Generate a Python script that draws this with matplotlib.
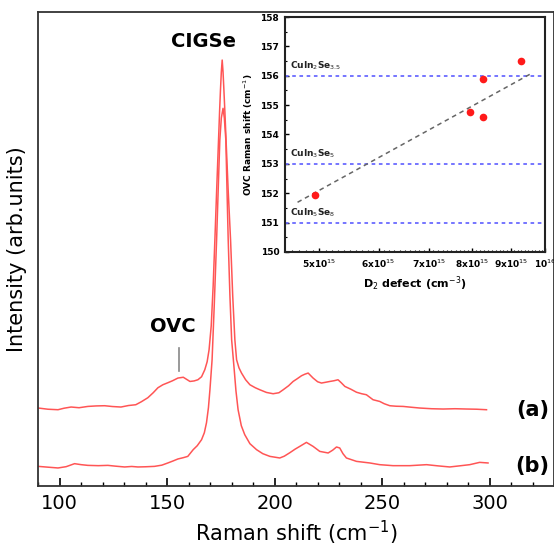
import matplotlib
matplotlib.use('Agg')
import matplotlib.pyplot as plt
from matplotlib.ticker import MultipleLocator, FixedLocator, NullLocator, NullFormatter

# spectrum (a), upper trace
xa = [90, 94.5, 99.2, 102.0, 105.3, 109.0, 113.1, 117.0, 120.9, 124.5, 128.5, 132.0,
      135.4, 138.0, 141.0, 143.5, 145.7, 148.0, 150.3, 152.5, 155.0, 157.5,
      160.6, 162.5, 164.3, 166.0, 167.5, 168.6, 169.5, 170.5, 171.4, 172.2, 173.1,
      173.9, 174.4, 174.8, 175.2, 175.6, 176.0, 176.4, 176.9, 177.4, 178.4, 179.5,
      180.5, 181.5, 182.3, 183.4, 184.6, 186.5, 188.5, 191.0, 193.1, 196.2, 199.3,
      202.0, 204.0, 206.5, 208.6, 210.5, 212.5, 214.0, 215.6, 217.9, 220.0, 221.8,
      223.8, 225.7, 227.6, 229.5, 231.0, 232.7, 235.5, 238.1, 240.5, 242.7, 245.8,
      248.9, 251.0, 253.6, 256.5, 259.8, 263.5, 267.5, 273.0, 278.4, 284.0, 289.3,
      294.0, 298.6]
ya = [77.7, 76.5, 76, 77.5, 78.7, 78.0, 79.3, 79.8, 80, 79.2, 78.7, 80.2,
      81, 84, 88, 93, 98, 101, 103, 105, 107.7, 108.5,
      104.3, 104.8, 106, 109, 116, 124, 136, 160, 200, 246, 300,
      346, 375, 396, 414, 426, 414, 396, 372, 346, 295, 246,
      190, 146, 126, 118, 112.7, 106, 101, 98, 96, 93.3, 92,
      93, 96, 100, 104.3, 107, 110, 111.5, 112.7, 107.7, 104, 102.7,
      103.5, 104.3, 105, 106, 103, 99.3, 96.5, 93.5, 92, 91, 86,
      84.3, 82, 80, 79.5, 79.3, 78.5, 77.7, 77, 76.7, 77, 76.7,
      76.5, 76]

# spectrum (b), lower trace
xb = [90, 94.5, 99.2, 103.0, 106.9, 110.0, 113.1, 118.0, 122.4, 126.0, 130.2, 133.5,
      136.4, 140.0, 144.1, 147.5, 150.3, 152.5, 155.0, 157.5, 159.6, 162.1, 164.0,
      166.0, 167.3, 168.3, 169.2, 169.9, 170.9, 171.9, 173.0, 173.8, 174.5, 175.2,
      176.0, 176.6, 177.3, 177.8, 178.4, 179.2, 180.0, 181.2, 182.0, 183.0, 184.5,
      186.1, 188.5, 191.6, 194.5, 197.8, 202.4, 204.5, 207.1, 209.5, 211.7, 214.8,
      217.9, 221.0, 224.9, 227.0, 228.8, 230.3, 231.8, 233.4, 238.1, 244.3, 248.9,
      255.1, 262.9, 270.7, 276.0, 281.5, 286.0, 290.8, 295.4, 299.3]
yb = [19.3, 18.5, 17.7, 19.0, 22, 21.0, 20.3, 20.0, 20.3, 19.5, 18.7, 19.2,
      18.7, 18.9, 19.3, 20.5, 22.7, 24.5, 26.7, 28.0, 29.3, 36, 40,
      46, 53, 63, 78, 96, 126, 180, 246, 300, 346, 368,
      377.7, 368, 346, 300, 246, 190, 146, 116, 95,
      76, 60, 51, 42, 36, 32, 29.3, 27.7, 29.5, 33, 36.5, 39.3, 43.3,
      39.3, 34.3, 32.7, 35.5, 38.7, 37.7, 32, 27.7, 24.3, 22.7, 21,
      20, 20, 21, 19.8, 18.7, 19.8, 21, 23.3, 22.7]

# inset: OVC Raman shift vs D2 defect density
d2_defect = [4.93e15, 7.93e15, 8.26e15, 8.26e15, 9.3e15]
ovc_shift = [151.95, 154.75, 155.9, 154.6, 156.5]
fit_x = [4.68e15, 9.62e15]
fit_y = [151.69, 156.1]
phase_levels = [156, 153, 151]
phase_names = ['CuIn$_2$Se$_{3.5}$', 'CuIn$_3$Se$_5$', 'CuIn$_5$Se$_8$']
inset_xticks = [5e15, 6e15, 7e15, 8e15, 9e15, 1e16]
inset_xlabels = ['5x10$^{15}$', '6x10$^{15}$', '7x10$^{15}$', '8x10$^{15}$',
                 '9x10$^{15}$', '10$^{16}$']

red = '#ff5555'

fig = plt.figure(figsize=(5.54, 5.5), dpi=100)
ax = fig.add_axes([0.069, 0.117, 0.931, 0.861])
ax.plot(xa, ya, color=red, lw=1.1)
ax.plot(xb, yb, color=red, lw=1.1)
ax.set_xlim(90, 330)
ax.set_ylim(0, 474)
ax.xaxis.set_major_locator(MultipleLocator(50))
ax.xaxis.set_minor_locator(MultipleLocator(10))
ax.yaxis.set_major_locator(NullLocator())
ax.tick_params(axis='x', which='major', direction='in', length=6, width=1.2,
               labelsize=14, pad=6)
ax.tick_params(axis='x', which='minor', direction='in', length=3, width=1)
for s in ax.spines.values():
    s.set_linewidth(1.3)
    s.set_color('#333333')
ax.set_xlabel('Raman shift (cm$^{-1}$)', fontsize=15, labelpad=4)
ax.set_ylabel('Intensity (arb.units)', fontsize=15, labelpad=8)

ax.text(167, 445, 'CIGSe', fontsize=14, fontweight='bold', ha='center', va='center')
ax.text(152.7, 159, 'OVC', fontsize=14, fontweight='bold', ha='center', va='center')
ax.plot([155.4, 155.4], [115, 138], color='#888888', lw=1.2)
ax.text(320, 76, '(a)', fontsize=15, fontweight='bold', ha='center', va='center')
ax.text(320, 20, '(b)', fontsize=15, fontweight='bold', ha='center', va='center')

# inset
ins = fig.add_axes([0.514, 0.542, 0.47, 0.427])
for lvl, name in zip(phase_levels, phase_names):
    ins.axhline(lvl, color='#6a6aff', lw=1.3, ls=(0, (2, 2)))
    ins.text(4.57e15, lvl + 0.12, name, fontsize=6.5, fontweight='bold',
             ha='left', va='bottom', color='#222222')
ins.plot(fit_x, fit_y, color='#666666', lw=1.1, ls=(0, (3, 2.5)))
ins.plot(d2_defect, ovc_shift, 'o', color='#ff1a1a', ms=5.5, mec='none')
ins.set_xscale('log')
ins.set_xlim(4.5e15, 1e16)
ins.set_ylim(150, 158)
ins.xaxis.set_major_locator(FixedLocator(inset_xticks))
ins.xaxis.set_minor_locator(MultipleLocator(1e14))
ins.xaxis.set_minor_formatter(NullFormatter())
ins.set_xticklabels(inset_xlabels)
ins.yaxis.set_major_locator(MultipleLocator(1))
ins.yaxis.set_minor_locator(MultipleLocator(0.5))
ins.tick_params(which='major', direction='in', length=3, width=1, labelsize=6.5, pad=4)
ins.tick_params(which='minor', direction='in', length=1.5, width=0.8)
for lab in ins.get_xticklabels() + ins.get_yticklabels():
    lab.set_fontweight('bold')
for s in ins.spines.values():
    s.set_linewidth(1.5)
    s.set_color('#222222')
ins.set_xlabel('D$_2$ defect (cm$^{-3}$)', fontsize=8, fontweight='bold', labelpad=3)
ins.set_ylabel('OVC Raman shift (cm$^{-1}$)', fontsize=6.5, fontweight='bold', labelpad=4)

fig.savefig('out.png', dpi=100)
